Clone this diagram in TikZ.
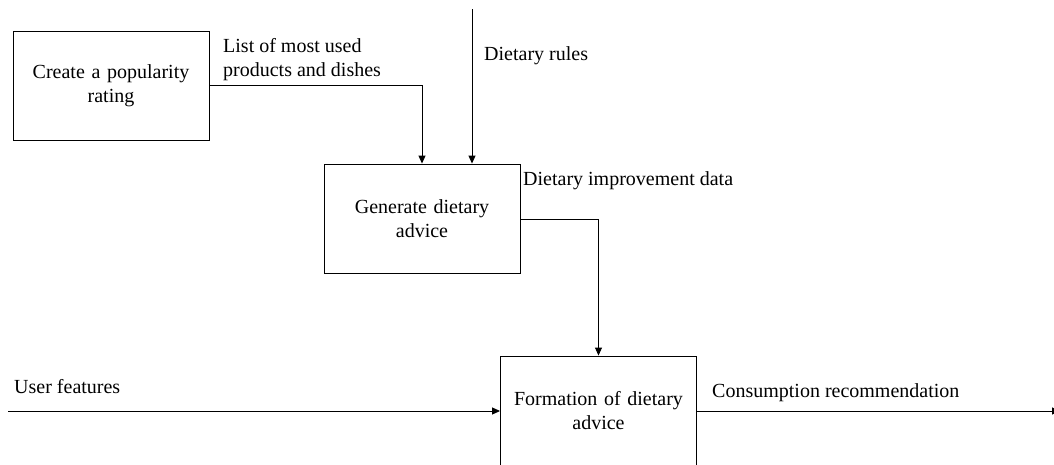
\documentclass[tikz,border=0pt]{standalone}
\usepackage{fontspec}
\setmainfont{Liberation Serif}
\usetikzlibrary{arrows.meta}
\begin{document}
\begin{tikzpicture}[x=1pt,y=-1pt,
  font=\fontsize{20}{24}\selectfont,
  process/.style={draw, line width=0.9pt, minimum width=196pt, minimum height=109pt,
    align=center, inner sep=0pt, text width=190pt},
  flow/.style={line width=0.9pt, -{Triangle[length=8pt,width=7pt]}},
  tag/.style={anchor=west, align=left, inner sep=0pt}]
\useasboundingbox (0,0) rectangle (1054,464);

% activity boxes
\node[process] (pop) at (111,85.5) {Create a popularity\\rating};
\node[process] (gen) at (422,218.5) {Generate dietary\\advice};
\node[process, minimum height=110pt] (form) at (598.5,411) {Formation of dietary\\advice};

% free ends of the boundary arrows
\coordinate (rulesTop) at (472,9);
\coordinate (userIn) at (8,411);
\coordinate (outEnd) at (1060,411);

% connectors
\draw[flow] (pop.east |- 0,85) -| (gen.north);
\draw[flow] (rulesTop) -- (rulesTop |- gen.north);
\draw[flow] (gen.east |- 0,219) -| (form.north);
\draw[flow] (userIn) -- (form.west);
\draw[flow] (form.east) -- (outEnd);

% arrow labels
\node[tag] (l1) at (223,60) {List of most used\\products and dishes};
\node[tag] (l2) at (484,56) {Dietary rules};
\node[tag] (l3) at (523,181) {Dietary improvement data};
\node[tag] (l4) at (14,387) {User features};
\node[tag] (l5) at (712,393) {Consumption recommendation};
\end{tikzpicture}
\end{document}
